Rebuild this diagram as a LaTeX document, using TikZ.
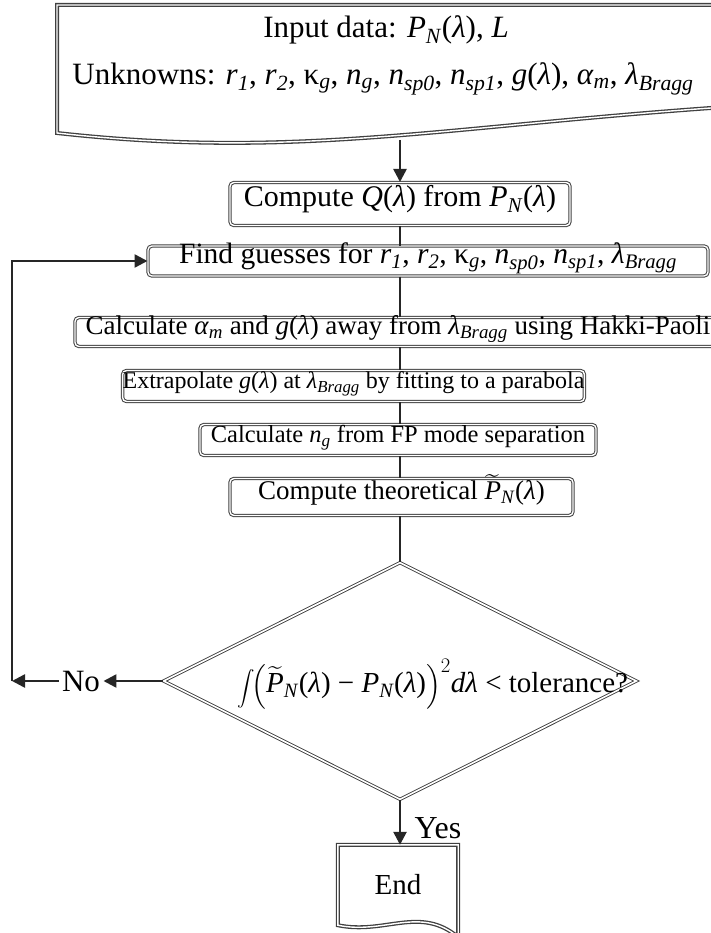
\documentclass[tikz,border=0pt]{standalone}
\usepackage{amsmath}
\usepackage{exscale}
\usepackage{graphicx}
\usepackage{fontspec}
\setmainfont{Liberation Serif}
\usetikzlibrary{shapes.geometric,arrows.meta}
\newcommand\V[2]{\textit{#1}\textsubscript{\textit{#2}}}
\newcommand\lam{\textit{λ}}
\newcommand\tP{$\widetilde{\mbox{\textit{P}}}$\textsubscript{\textit{N}}}
\newcommand\fs[1]{\fontsize{#1}{#1}\selectfont}
\begin{document}
\begin{tikzpicture}[x=1pt,y=-1pt,font=\fs{24},
  box/.style={draw=black!75,line width=1pt,double=white,double distance=1.4pt,
    rounded corners=4pt,inner sep=0pt,text height=1.5ex,text depth=.25ex},
  docline/.style={draw=black!75,line width=1.3pt,double=white,double distance=1.4pt},
  con/.style={draw=black!85,line width=2.5pt},
  arr/.style={con,-{Triangle[length=13pt,width=13pt]}}]
\useasboundingbox (0,0) rectangle (711,933);
\clip (0,0) rectangle (711,933);
% input document
\draw[docline] (57,133) -- (57,5) -- (740,5) -- (740,106)
  .. controls (450,125) and (300,160) .. (57,133) -- cycle;
\node[font=\fs{31}] (in1) at (386,30) {Input data: \V{P}{N}(\lam), \textit{L}};
\node[font=\fs{31}] (in2) at (383,79) {Unknowns: \V{r}{1}, \V{r}{2}, κ\textsubscript{\textit{g}}, \V{n}{g}, \V{n}{sp0}, \V{n}{sp1}, \textit{g}(\lam), \V{α}{m}, \V{λ}{Bragg}};
\coordinate (inb) at (400,140);
% process boxes
\node[box,font=\fs{30},minimum width=340,minimum height=43] (cq) at (400,204) {Compute \textit{Q}(\lam) from \V{P}{N}(\lam)};
\node[box,font=\fs{29.5},minimum width=560,minimum height=30] (fg) at (428,261) {Find guesses for \V{r}{1}, \V{r}{2}, κ\textsubscript{\textit{g}}, \V{n}{sp0}, \V{n}{sp1}, \V{λ}{Bragg}};
\node[box,font=\fs{27},minimum width=646,minimum height=29] (ca) at (398,332) {Calculate \V{α}{m} and \textit{g}(\lam) away from \V{λ}{Bragg} using Hakki-Paoli};
\node[box,font=\fs{24},minimum width=457,minimum height=31] (ex) at (353.5,386) {Extrapolate \textit{g}(\lam) at \V{λ}{Bragg} by fitting to a parabola};
\node[box,font=\fs{24.5},minimum width=396,minimum height=31] (ng) at (398,440) {Calculate \V{n}{g} from FP mode separation};
\node[box,font=\fs{27},minimum width=343,minimum height=37] (ct) at (401.5,497) {Compute theoretical \tP(\lam)};
% decision
\node[diamond,draw=black!75,line width=0.9pt,double=white,double distance=1.6pt,
  minimum width=473,minimum height=237,inner sep=0pt] (dm) at (400,681) {};
\node[font=\fs{29}] (dt) at (433,684) {\scalebox{0.7}{$\displaystyle\int$}$\!\Bigl($\tP(\lam) − \V{P}{N}(\lam)$\Bigr)^{2}$\textit{dλ} < tolerance?};
% end
\node[font=\fs{29},minimum width=120,minimum height=80,inner sep=0pt] (end) at (398,885) {End};
\draw[docline] (end.south west) -- (end.north west) -- (end.north east) -- ([yshift=-12pt]end.south east)
  .. controls (420,905) and (385,935) .. (end.south west) -- cycle;
% connectors
\draw[arr] (inb) -- (inb |- cq.north);
\draw[con] (cq.south) -- (cq.south |- fg.north);
\draw[con] (cq.south |- fg.south) -- (cq.south |- ca.north);
\draw[con] (cq.south |- ca.south) -- (cq.south |- ex.north);
\draw[con] (cq.south |- ex.south) -- (cq.south |- ng.north);
\draw[con] (cq.south |- ng.south) -- (cq.south |- ct.north);
\draw[con] (ct.south -| dm.north) -- (dm.north);
\node[font=\fs{31}] (no) at (81,681) {No};
\coordinate (lp) at (12,681);
\draw[arr] (dm.west) -- (no.east);
\draw[arr] (no.west) -- (lp);
\draw[arr] (lp) |- (fg.west);
\draw[arr] (dm.south) -- (dm.south |- end.north);
\node[font=\fs{32}] (yes) at (438,828) {Yes};
\end{tikzpicture}
\end{document}
